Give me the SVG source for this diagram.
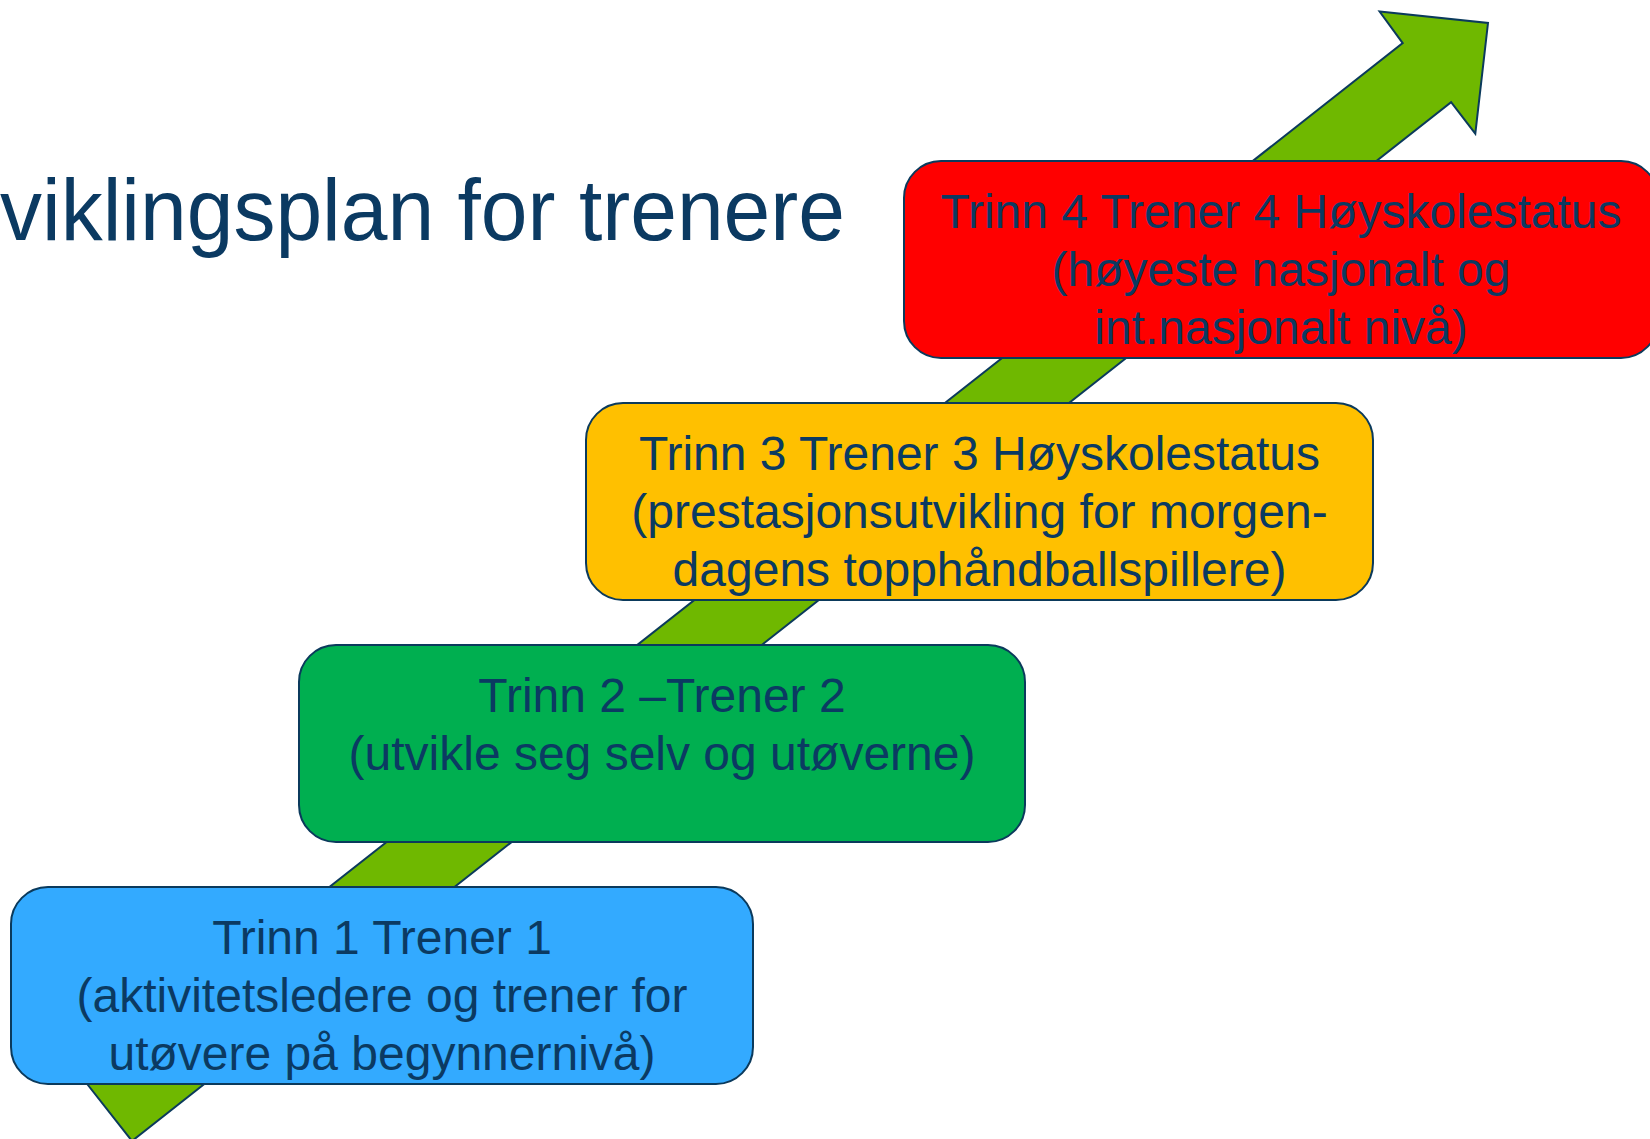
<svg xmlns="http://www.w3.org/2000/svg" width="1650" height="1139" viewBox="0 0 1650 1139">
<style>
.box{stroke:#0B3A5C;stroke-width:2}
.t{font-family:"Liberation Sans",Arial,sans-serif;font-size:48px;fill:#0B3A62;text-anchor:middle}
.title{font-family:"Liberation Sans",Arial,sans-serif;font-size:88px;fill:#0B3A62}
</style>
<rect width="1650" height="1139" fill="#FFFFFF"/>
<text class="title" x="0" y="240" textLength="845" lengthAdjust="spacingAndGlyphs">viklingsplan for trenere</text>
<g id="connectors">
<polygon points="84,1080 1402.7,43.1 1379.6,11.6 1488,23 1475.3,133.6 1451.1,102.1 132,1141" fill="#6FB800" stroke="#0B3A5C" stroke-width="2" stroke-linejoin="miter"/>
</g>
<g id="trinn4">
<rect class="box" x="904" y="161" width="754" height="197" rx="37" fill="#FF0000"/>
<text class="t" x="1281" y="228">Trinn 4 Trener 4 Høyskolestatus</text>
<text class="t" x="1281" y="286">(høyeste nasjonalt og</text>
<text class="t" x="1281" y="344">int.nasjonalt nivå)</text>
</g>
<g id="trinn3">
<rect class="box" x="586" y="403" width="787" height="197" rx="37" fill="#FFC000"/>
<text class="t" x="979.5" y="470">Trinn 3 Trener 3 Høyskolestatus</text>
<text class="t" x="979.5" y="528">(prestasjonsutvikling for morgen-</text>
<text class="t" x="979.5" y="586">dagens topphåndballspillere)</text>
</g>
<g id="trinn2">
<rect class="box" x="299" y="645" width="726" height="197" rx="37" fill="#00AF50"/>
<text class="t" x="662" y="712">Trinn 2 –Trener 2</text>
<text class="t" x="662" y="770">(utvikle seg selv og utøverne)</text>
</g>
<g id="trinn1">
<rect class="box" x="11" y="887" width="742" height="197" rx="37" fill="#33AAFF"/>
<text class="t" x="382" y="954">Trinn 1 Trener 1</text>
<text class="t" x="382" y="1012">(aktivitetsledere og trener for</text>
<text class="t" x="382" y="1070">utøvere på begynnernivå)</text>
</g>
</svg>
